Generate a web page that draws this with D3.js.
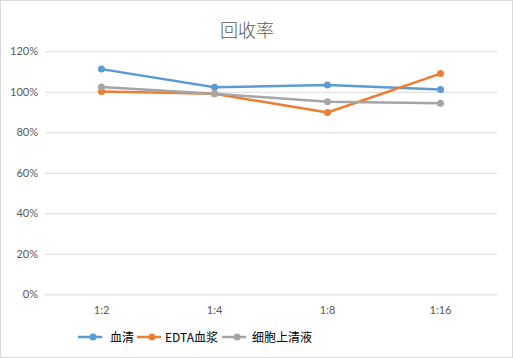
<!DOCTYPE html>
<html><head><meta charset="utf-8">
<script src="https://cdn.jsdelivr.net/npm/d3@7"></script>
<style>body{margin:0;background:#fff}svg{display:block}</style>
</head><body>
<script>
const categories = ["1:2","1:4","1:8","1:16"];
const seriesNames = ["血清","EDTA血浆","细胞上清液"];
const serum = [111.2, 102.3, 103.3, 101.1];
const edta = [100.1, 99.0, 89.8, 109.0];
const supernatant = [102.4, 99.0, 95.1, 94.3];
const yTicks = [0,20,40,60,80,100,120];
const colors = ["#5b9bd5","#ed7d31","#a5a5a5"];

const W=513,H=358;
const svg=d3.select("body").append("svg").attr("width",W).attr("height",H);
svg.append("rect").attr("x",0.5).attr("y",0.5).attr("width",W-1).attr("height",H-1).attr("fill","#fff").attr("stroke","#d9d9d9");

const x=d3.scaleBand().domain(categories).range([45,497]);
const y=d3.scaleLinear().domain([0,120]).range([294.3,51.3]);

svg.append("text").attr("x",247).attr("y",37).attr("text-anchor","middle")
  .attr("font-family","'Noto Sans CJK SC'").attr("font-weight",300).attr("font-size",18).attr("fill","#595959").text("回收率");

const yAxis=svg.append("g").attr("transform","translate(45,0)")
  .call(d3.axisLeft(y).tickValues(yTicks).tickSize(-452).tickFormat(d=>d+"%"));
yAxis.select(".domain").remove();
yAxis.selectAll("line").attr("stroke","#d9d9d9");
yAxis.selectAll("text").attr("x",-7).attr("fill","#595959").attr("font-family","Lato, 'Noto Sans'").attr("font-size",11);

const xAxis=svg.append("g").attr("transform","translate(0,294.3)")
  .call(d3.axisBottom(x).tickSize(0).tickPadding(12));
xAxis.select(".domain").remove();
xAxis.selectAll("text").attr("fill","#595959").attr("font-family","Lato, 'Noto Sans'").attr("font-size",11);

const data=[serum,edta,supernatant];
const line=d3.line().x((d,i)=>x(categories[i])+x.bandwidth()/2).y(d=>y(d));
data.forEach((s,k)=>{
  const g=svg.append("g");
  g.append("path").datum(s).attr("d",line).attr("fill","none").attr("stroke",colors[k]).attr("stroke-width",2.5).attr("stroke-linejoin","round");
  g.selectAll("circle").data(s).join("circle")
    .attr("cx",(d,i)=>x(categories[i])+x.bandwidth()/2).attr("cy",d=>y(d)).attr("r",3.5).attr("fill",colors[k]);
});

// legend
const legX=[78,137,222], ly=337;
const txtOff=[32,28,30];
seriesNames.forEach((n,k)=>{
  const g=svg.append("g").attr("transform",`translate(${legX[k]},${ly})`);
  g.append("line").attr("x1",0).attr("x2",24).attr("stroke",colors[k]).attr("stroke-width",2.5);
  g.append("circle").attr("cx",15).attr("r",3.5).attr("fill",colors[k]);
  g.append("text").attr("x",txtOff[k]).attr("y",4.5).attr("font-family","'Noto Sans CJK SC'").attr("font-size",12).attr("fill","#000").text(n);
});
</script>
</body></html>
